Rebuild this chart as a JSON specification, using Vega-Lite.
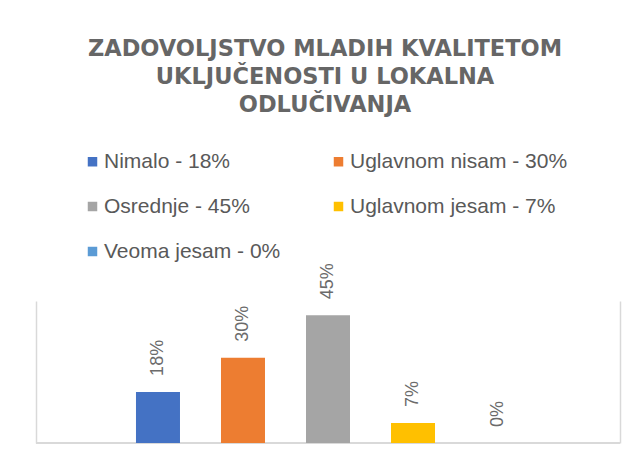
{
  "$schema": "https://vega.github.io/schema/vega-lite/v6.json",
  "width": 584,
  "height": 142,
  "autosize": {"type": "none"},
  "padding": {"left": 36, "top": 301, "right": 16, "bottom": 23},
  "background": "white",
  "title": {
    "text": ["ZADOVOLJSTVO MLADIH KVALITETOM", "UKLJUČENOSTI U LOKALNA", "ODLUČIVANJA"],
    "font": "DejaVu Sans",
    "fontSize": 22.5,
    "fontWeight": "bold",
    "color": "#666666",
    "lineHeight": 28.3,
    "anchor": "middle",
    "frame": "group",
    "offset": 34,
    "dx": -3
  },
  "data": {
    "values": [
      {"kategorija": "Nimalo - 18%", "udio": 0.18},
      {"kategorija": "Uglavnom nisam - 30%", "udio": 0.30},
      {"kategorija": "Osrednje - 45%", "udio": 0.45},
      {"kategorija": "Uglavnom jesam - 7%", "udio": 0.07},
      {"kategorija": "Veoma jesam - 0%", "udio": 0.0}
    ]
  },
  "config": {
    "view": {"stroke": null},
    "legend": {"padding": 0}
  },
  "encoding": {
    "x": {
      "field": "kategorija",
      "type": "nominal",
      "sort": null,
      "scale": {"paddingInner": 0.13, "paddingOuter": 1},
      "axis": null
    }
  },
  "layer": [
    {
      "mark": {"type": "rule", "color": "#d9d9d9", "strokeWidth": 1.5},
      "encoding": {
        "x": null,
        "y": {"datum": 0, "type": "quantitative", "axis": null}
      }
    },
    {
      "mark": {"type": "bar", "width": {"band": 0.595}},
      "encoding": {
        "y": {
          "field": "udio",
          "type": "quantitative",
          "scale": {"domain": [0, 0.5], "nice": false},
          "axis": {"orient": "left", "labels": false, "ticks": false, "grid": false, "title": null, "domainColor": "#d9d9d9", "domainWidth": 1.5}
        },
        "color": {
          "field": "kategorija",
          "type": "nominal",
          "scale": {
            "domain": ["Nimalo - 18%", "Osrednje - 45%", "Veoma jesam - 0%", "Uglavnom nisam - 30%", "Uglavnom jesam - 7%"],
            "range": ["#4472C4", "#A5A5A5", "#5B9BD5", "#ED7D31", "#FFC000"]
          },
          "legend": {
            "orient": "none",
            "legendX": 46,
            "legendY": -150,
            "columns": 2,
            "title": null,
            "symbolType": "square",
            "symbolSize": 90,
            "symbolStrokeWidth": 0,
            "labelFont": "Liberation Sans",
            "labelFontSize": 21,
            "labelColor": "#595959",
            "labelOffset": 1,
            "labelLimit": 400,
            "rowPadding": 23,
            "columnPadding": 47
          }
        }
      }
    },
    {
      "mark": {"type": "text", "angle": 270, "align": "left", "baseline": "middle", "dx": 16, "font": "Liberation Sans", "fontSize": 18, "color": "#6b6b6b"},
      "encoding": {
        "y": {
          "field": "udio",
          "type": "quantitative",
          "axis": {"orient": "right", "labels": false, "ticks": false, "grid": false, "title": null, "domainColor": "#d9d9d9", "domainWidth": 1.5}
        },
        "text": {"field": "udio", "type": "quantitative", "format": ".0%"}
      }
    }
  ],
  "resolve": {"axis": {"y": "independent"}}
}
